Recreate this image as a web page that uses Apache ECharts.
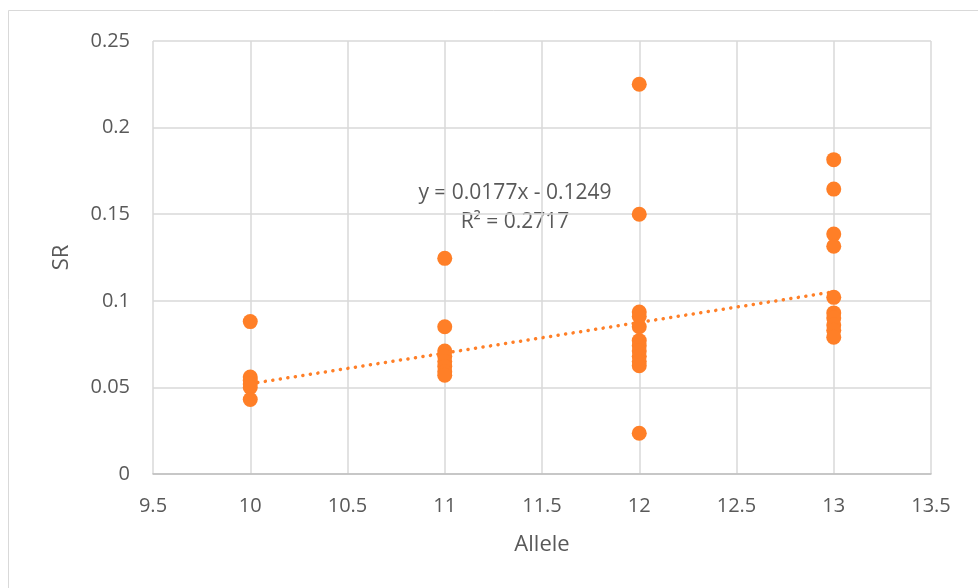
<!DOCTYPE html>
<html>
<head>
<meta charset="utf-8">
<script src="https://cdn.jsdelivr.net/npm/echarts@6/dist/echarts.min.js"></script>
<style>
html,body{margin:0;padding:0;background:#fff;}
#c{width:978px;height:588px;}
</style>
</head>
<body>
<div id="c"></div>
<script>
// Data
var alleles = [10, 11, 12, 13];
var sr10 = [0.088, 0.056, 0.054, 0.052, 0.050, 0.043];
var sr11 = [0.1245, 0.085, 0.071, 0.068, 0.065, 0.062, 0.059, 0.057];
var sr12 = [0.225, 0.150, 0.0935, 0.091, 0.085, 0.077, 0.074, 0.071, 0.068, 0.065, 0.0625, 0.0235];
var sr13 = [0.1815, 0.1645, 0.1385, 0.1315, 0.102, 0.093, 0.090, 0.086, 0.083, 0.079];
var trendX = [10, 13];
var trendY = [0.0521, 0.1052];
var equationText = 'y = 0.0177x - 0.1249';
var r2Text = 'R\u00B2 = 0.2717';

var groups = [sr10, sr11, sr12, sr13];
var points = [];
groups.forEach(function (g, i) {
  g.forEach(function (v) { points.push([alleles[i], v]); });
});
var trend = trendX.map(function (x, i) { return [x, trendY[i]]; });

var orange = '#FF7F27';
var txt = '#595959';
var font = '"Open Sans", sans-serif';

var chart = echarts.init(document.getElementById('c'));
chart.setOption({
  animation: false,
  backgroundColor: '#fff',
  grid: { left: 153, right: 47, top: 41, bottom: 114 },
  xAxis: {
    type: 'value', min: 9.5, max: 13.5, interval: 0.5,
    name: 'Allele', nameLocation: 'middle', nameGap: 60,
    nameTextStyle: { color: txt, fontSize: 22, fontFamily: font },
    axisLine: { show: true, lineStyle: { color: '#bfbfbf', width: 1.5 } },
    axisTick: { show: false },
    axisLabel: { color: txt, fontSize: 20, fontFamily: font, margin: 22 },
    splitLine: { show: true, lineStyle: { color: '#d9d9d9', width: 1.5 } }
  },
  yAxis: {
    type: 'value', min: 0, max: 0.25, interval: 0.05,
    name: 'SR', nameLocation: 'middle', nameGap: 80,
    nameTextStyle: { color: txt, fontSize: 22, fontFamily: font },
    axisLine: { show: false },
    axisTick: { show: false },
    axisLabel: { color: txt, fontSize: 20, fontFamily: font, margin: 23 },
    splitLine: { show: true, lineStyle: { color: '#d9d9d9', width: 1.5 } }
  },
  graphic: [
    { type: 'rect', shape: { x: 8.5, y: 10.5, width: 1100, height: 700 },
      style: { fill: 'none', stroke: '#d9d9d9', lineWidth: 1 }, silent: true },
    { type: 'text', x: 515, y: 193, style: { text: equationText, fill: txt, font: '21px ' + font, textAlign: 'center', textVerticalAlign: 'middle' } },
    { type: 'text', x: 515, y: 222, style: { text: r2Text, fill: txt, font: '21px ' + font, textAlign: 'center', textVerticalAlign: 'middle' } }
  ],
  series: [
    {
      type: 'line', data: trend, symbol: 'none', z: 3,
      lineStyle: { color: orange, width: 3.5, type: [0.1, 7.5], cap: 'round' }
    },
    {
      type: 'scatter', data: points, symbol: 'circle', symbolSize: 15, z: 4,
      itemStyle: { color: orange, opacity: 1 }
    }
  ]
});
</script>
</body>
</html>
